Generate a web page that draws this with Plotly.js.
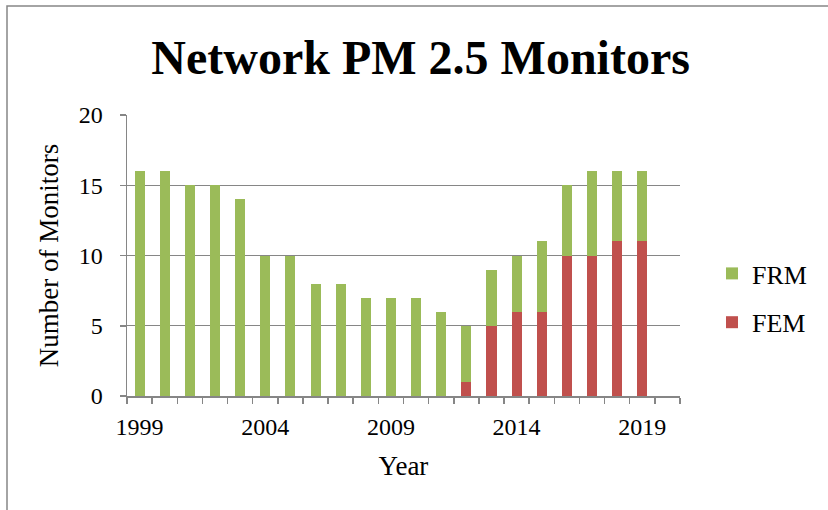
<!DOCTYPE html>
<html>
<head>
<meta charset="utf-8">
<script src="https://cdn.plot.ly/plotly-3.0.1.min.js"></script>
<style>
html,body{margin:0;padding:0;background:#fff;}
#chart{width:828px;height:510px;}
</style>
</head>
<body>
<div id="chart"></div>
<script>
const years = [1999,2000,2001,2002,2003,2004,2005,2006,2007,2008,2009,2010,2011,2012,2013,2014,2015,2016,2017,2018,2019];
const fem = [0,0,0,0,0,0,0,0,0,0,0,0,0,1,5,6,6,10,10,11,11];
const frm = [16,16,15,15,14,10,10,8,8,7,7,7,6,4,4,4,5,5,6,5,5];
const yearLabels = [1999,2004,2009,2014,2019];

const font = 'Liberation Serif, Times New Roman, serif';
const gray = '#868686';

const traces = [
  {type:'bar', name:'FEM', x:years, y:fem, marker:{color:'#C0504D'}, width:0.4, legendgroup:'b', legendrank:2},
  {type:'bar', name:'FRM', x:years, y:frm, marker:{color:'#9BBB59'}, width:0.4, legendgroup:'a', legendrank:1}
];

const L=127, R=680, T=115, B=396;
const pw=R-L, ph=B-T;
function px(x){return (x-L)/pw;}
function py(y){return (B-y)/ph;}

const layout = {
  width:828, height:510,
  margin:{l:L, r:828-R, t:T, b:510-B, pad:0},
  barmode:'stack',
  paper_bgcolor:'#fff', plot_bgcolor:'#fff',
  font:{family:font, size:24, color:'#000'},
  title:{text:'<b>Network PM 2.5 Monitors</b>', font:{family:font, size:48, color:'#000'}, x:0.508, xanchor:'center', y:0.888, yanchor:'middle'},
  xaxis:{
    range:[1998.5,2020.5], tickmode:'array', tickvals:yearLabels, ticktext:yearLabels.map(String),
    ticks:'', showgrid:false, zeroline:false, showline:true, linecolor:gray, linewidth:1.5,
    ticklabelstandoff:9, tickfont:{size:24},
    minor:{tickmode:'linear', tick0:1998.5, dtick:1, ticks:'outside', ticklen:6, tickcolor:gray, tickwidth:1.5, showgrid:false},
    title:{text:'Year', font:{size:27}, standoff:17}, automargin:false
  },
  yaxis:{
    range:[0,20], tickvals:[0,5,10,15,20], ticks:'outside', ticklen:6, tickcolor:gray, tickwidth:1.5,
    showgrid:true, gridcolor:gray, gridwidth:1.2, zeroline:false, showline:true, linecolor:gray, linewidth:1.5,
    ticklabelstandoff:12, tickfont:{size:24},
    title:{text:'Number of Monitors', font:{size:27}, standoff:12}, automargin:false
  },
  legend:{x:px(712), xanchor:'left', y:py(298), yanchor:'middle', traceorder:'grouped', tracegroupgap:12, font:{size:26}, bgcolor:'rgba(0,0,0,0)'},
  shapes:[{type:'rect', xref:'paper', yref:'paper', x0:px(7), x1:px(835), y0:py(520), y1:py(6), line:{color:gray, width:1.5}, fillcolor:'rgba(0,0,0,0)', layer:'below'}],
  showlegend:true
};

Plotly.newPlot('chart', traces, layout, {staticPlot:true, displayModeBar:false});
</script>
</body>
</html>
